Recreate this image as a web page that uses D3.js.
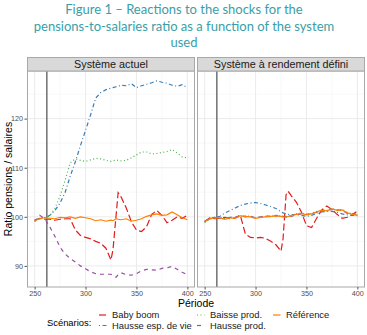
<!DOCTYPE html>
<html>
<head>
<meta charset="utf-8">
<script src="https://cdn.jsdelivr.net/npm/d3@7"></script>
<style>
  body { margin: 0; background: #fff; }
  svg { display: block; }
</style>
</head>
<body>
<div id="chart"></div>
<script>
// periods shared by every series
const periods = [250, 255, 260, 265, 270, 275, 280, 285, 290, 295, 300, 305, 310, 315, 320, 325, 327,
  330, 332, 335, 340, 345, 350, 355, 360, 365, 370, 375, 380, 385, 390, 395, 400];

const panels = ["Système actuel", "Système à rendement défini"];
const scenarios = ["Baby boom", "Hausse esp. de vie", "Baisse prod.", "Hausse prod.", "Référence"];
const shockPeriod = 262;
const xTicks = [250, 300, 350, 400];
const yTicks = [90, 100, 110, 120];

// Système actuel
const actuelBabyBoom = [99.3, 99.7, 99.5, 99.5, 99.3, 99.5, 99.6, 99.6, 97.3, 96.2, 95.8, 95.5, 95.0, 94.6, 93.6, 91.2, 93.4,
  100.3, 104.9, 104.0, 101.8, 99.0, 97.3, 97.0, 98.0, 100.5, 101.3, 100.3, 98.8, 99.3, 100.0, 99.7, 100.3];
const actuelEspVie = [99.3, 99.6, 99.8, 100.3, 101.3, 102.8, 105.0, 108.3, 111.2, 114.5, 117.6, 120.8, 124.2, 125.3, 125.9, 126.2, 126.3,
  126.5, 126.6, 126.8, 126.7, 127.1, 126.3, 126.7, 127.0, 127.3, 127.7, 127.4, 127.2, 126.8, 126.6, 126.9, 126.3];
const actuelBaisseProd = [99.3, 99.7, 99.8, 100.2, 101.8, 104.2, 107.5, 111.0, 111.8, 111.5, 111.3, 111.6, 111.9, 111.8, 111.5, 111.3, 111.4,
  111.6, 111.5, 111.4, 111.5, 112.0, 112.6, 113.2, 113.2, 112.8, 112.9, 113.1, 113.3, 113.7, 113.0, 112.2, 112.0];
const actuelHausseProd = [99.0, 100.3, 99.6, 97.9, 96.0, 93.8, 92.4, 91.5, 90.8, 90.0, 89.4, 88.8, 88.4, 88.3, 88.3, 88.3, 88.0,
  87.7, 88.2, 88.6, 88.2, 88.1, 88.4, 89.0, 89.3, 89.2, 89.1, 89.5, 89.6, 89.9, 89.3, 88.7, 88.2];
const actuelReference = [99.2, 99.6, 99.8, 99.7, 99.6, 99.9, 99.8, 100.0, 99.7, 100.0, 99.8, 99.6, 99.2, 99.4, 99.1, 99.3, 99.2,
  99.6, 99.5, 99.4, 99.6, 99.1, 99.3, 99.6, 100.1, 100.4, 100.6, 100.3, 100.4, 101.0, 100.4, 99.8, 99.4];

// Système à rendement défini
const definiBabyBoom = [99.0, 99.8, 99.6, 99.7, 99.9, 99.6, 99.8, 100.3, 96.5, 95.8, 95.7, 95.8, 95.6, 95.0, 94.3, 93.0, 95.5,
  104.5, 105.2, 104.3, 103.0, 101.0, 98.2, 97.8, 99.7, 101.4, 102.2, 101.5, 100.5, 99.7, 99.9, 100.4, 101.2];
const definiEspVie = [99.0, 99.6, 99.8, 100.1, 100.8, 101.3, 101.8, 102.3, 102.6, 102.8, 102.9, 102.7, 102.4, 102.1, 101.7, 101.0, 100.8,
  100.6, 100.5, 100.4, 100.5, 100.3, 100.1, 100.3, 100.7, 101.0, 101.1, 101.1, 100.9, 100.6, 100.4, 100.3, 100.2];
const definiBaisseProd = [98.8, 99.5, 99.9, 99.9, 99.6, 99.9, 99.8, 100.1, 100.2, 100.1, 99.8, 100.0, 100.1, 100.2, 100.1, 100.2, 100.1,
  100.0, 100.2, 100.3, 100.6, 100.8, 100.5, 100.7, 101.1, 101.4, 101.3, 101.7, 101.4, 101.5, 100.9, 100.6, 100.4];
const definiHausseProd = [99.1, 99.7, 99.9, 99.7, 99.6, 99.9, 99.9, 100.3, 100.0, 100.1, 99.8, 100.0, 100.2, 100.0, 100.3, 100.2, 100.1,
  100.0, 100.2, 100.1, 100.4, 100.6, 100.5, 100.7, 100.9, 101.2, 101.4, 101.5, 101.4, 101.3, 100.7, 100.6, 100.5];
const definiReference = [99.0, 99.6, 99.8, 99.8, 99.5, 99.8, 99.7, 100.2, 100.1, 100.0, 99.7, 99.9, 100.0, 100.1, 100.2, 100.1, 100.0,
  99.9, 100.1, 100.2, 100.5, 100.7, 100.4, 100.6, 101.0, 101.3, 101.2, 101.6, 101.3, 101.4, 100.8, 100.5, 100.3];

const seriesByPanel = [
  [actuelBabyBoom, actuelEspVie, actuelBaisseProd, actuelHausseProd, actuelReference],
  [definiBabyBoom, definiEspVie, definiBaisseProd, definiHausseProd, definiReference]
];

(function facet_chart() {
  const width = 367, height = 335;
  const colors = ["#E41A1C", "#377EB8", "#4DAF4A", "#984EA3", "#FF7F00"];
  const dashes = ["7,3", "1,2.5,4,2.5", "1,2.5", "4,4", null];
  const panelLeft = [27, 197], panelW = 168;
  const panelTop = 71, panelBottom = 287, stripTop = 57;
  const font = "Liberation Sans, Arial, sans-serif";

  const svg = d3.select("#chart").append("svg")
    .attr("width", width).attr("height", height);

  // title
  const title = ["Figure 1 – Reactions to the shocks for the",
    "pensions-to-salaries ratio as a function of the system", "used"];
  svg.append("text")
    .attr("text-anchor", "middle")
    .attr("font-family", "Lato")
    .attr("font-size", 13)
    .attr("fill", "#3a9ea8")
    .selectAll("tspan").data(title).join("tspan")
    .attr("x", width / 2 + 0.5)
    .attr("y", (d, i) => 14 + i * 16.5)
    .text(d => d);

  // y scale: data range plus 5% on each side
  const all = seriesByPanel.flat(2);
  const [lo, hi] = d3.extent(all);
  const pad = (hi - lo) * 0.05;
  const y = d3.scaleLinear().domain([lo - pad, hi + pad]).range([panelBottom, panelTop]);

  panels.forEach((name, pi) => {
    const x = d3.scaleLinear().domain([242.5, 407.5])
      .range([panelLeft[pi], panelLeft[pi] + panelW]);
    const g = svg.append("g");

    // grid
    const minorX = [275, 325, 375], minorY = [95, 105, 115, 125];
    g.selectAll(".mx").data(minorX).join("line")
      .attr("x1", d => x(d)).attr("x2", d => x(d))
      .attr("y1", panelTop).attr("y2", panelBottom)
      .attr("stroke", "#f3f3f3").attr("stroke-width", 0.6);
    g.selectAll(".my").data(minorY).join("line")
      .attr("x1", panelLeft[pi]).attr("x2", panelLeft[pi] + panelW)
      .attr("y1", d => y(d)).attr("y2", d => y(d))
      .attr("stroke", "#f3f3f3").attr("stroke-width", 0.6);
    g.selectAll(".gx").data(xTicks).join("line")
      .attr("x1", d => x(d)).attr("x2", d => x(d))
      .attr("y1", panelTop).attr("y2", panelBottom)
      .attr("stroke", "#e6e6e6").attr("stroke-width", 0.8);
    g.selectAll(".gy").data(yTicks).join("line")
      .attr("x1", panelLeft[pi]).attr("x2", panelLeft[pi] + panelW)
      .attr("y1", d => y(d)).attr("y2", d => y(d))
      .attr("stroke", "#e6e6e6").attr("stroke-width", 0.8);

    // shock line
    g.append("line")
      .attr("x1", x(shockPeriod)).attr("x2", x(shockPeriod))
      .attr("y1", panelTop).attr("y2", panelBottom)
      .attr("stroke", "#5a5a5a").attr("stroke-width", 1.3);

    // series
    const line = d3.line()
      .x((d, i) => x(periods[i]))
      .y(d => y(d));
    seriesByPanel[pi].forEach((vals, si) => {
      g.append("path")
        .datum(vals)
        .attr("d", line)
        .attr("fill", "none")
        .attr("stroke", colors[si])
        .attr("stroke-width", 1.2)
        .attr("stroke-dasharray", dashes[si]);
    });

    // border
    g.append("rect")
      .attr("x", panelLeft[pi] + 0.5).attr("y", panelTop)
      .attr("width", panelW - 1).attr("height", panelBottom - panelTop)
      .attr("fill", "none").attr("stroke", "#a8a8a8").attr("stroke-width", 1);

    // strip
    g.append("rect")
      .attr("x", panelLeft[pi] + 0.5).attr("y", stripTop + 0.5)
      .attr("width", panelW - 1).attr("height", panelTop - stripTop - 0.5)
      .attr("fill", "#d9d9d9").attr("stroke", "#a8a8a8").attr("stroke-width", 1);
    g.append("text")
      .attr("x", panelLeft[pi] + panelW / 2).attr("y", stripTop + 11)
      .attr("text-anchor", "middle")
      .attr("font-family", font)
      .attr("font-size", 10.8).attr("fill", "#1a1a1a")
      .text(name);

    // x axis
    const xa = g.append("g")
      .attr("transform", `translate(0,${panelBottom})`)
      .call(d3.axisBottom(x).tickValues(xTicks).tickSize(2.5).tickSizeOuter(0).tickPadding(1.5));
    xa.select(".domain").remove();
    xa.selectAll("line").attr("stroke", "#555");
    xa.selectAll("text").attr("fill", "#4d4d4d").attr("font-size", 7.2)
      .attr("font-family", font);

    // y axis only on first panel
    if (pi === 0) {
      const ya = g.append("g")
        .attr("transform", `translate(${panelLeft[0]},0)`)
        .call(d3.axisLeft(y).tickValues(yTicks).tickSize(2.5).tickPadding(1.5));
      ya.select(".domain").remove();
      ya.selectAll("line").attr("stroke", "#555");
      ya.selectAll("text").attr("fill", "#4d4d4d").attr("font-size", 7.2)
        .attr("font-family", font);
    }
  });

  // axis titles
  svg.append("text")
    .attr("x", 196).attr("y", 307)
    .attr("text-anchor", "middle")
    .attr("font-family", font)
    .attr("font-size", 10.5).attr("fill", "#000")
    .text("Période");
  svg.append("text")
    .attr("transform", `translate(11.5,${(panelTop + panelBottom) / 2}) rotate(-90)`)
    .attr("text-anchor", "middle")
    .attr("font-family", font)
    .attr("font-size", 10.5).attr("fill", "#000")
    .text("Ratio pensions / salaires");

  // legend, filled column by column in two rows
  const legend = svg.append("g")
    .attr("font-family", font)
    .attr("font-size", 9.4);
  legend.append("text").attr("x", 47).attr("y", 326).text("Scénarios:");
  const colX = [99, 197, 273], rowY = [315, 325.5];
  scenarios.forEach((s, i) => {
    const cx = colX[Math.floor(i / 2)], cy = rowY[i % 2];
    legend.append("line")
      .attr("x1", cx).attr("x2", cx + 7.5)
      .attr("y1", cy).attr("y2", cy)
      .attr("stroke", colors[i]).attr("stroke-width", 1.2)
      .attr("stroke-dasharray", dashes[i]);
    legend.append("text")
      .attr("x", cx + 13).attr("y", cy + 3.4)
      .attr("fill", "#1a1a1a")
      .text(s);
  });
})();
</script>
</body>
</html>
